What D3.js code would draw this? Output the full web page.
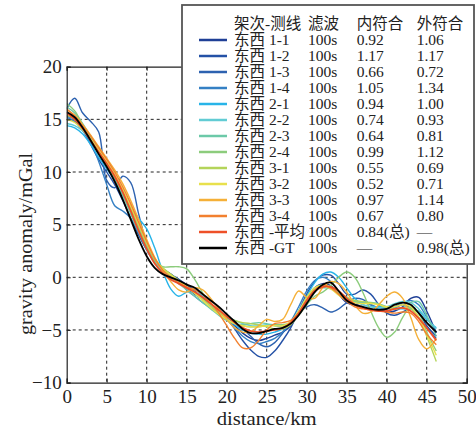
<!DOCTYPE html>
<html><head><meta charset="utf-8">
<script src="https://cdn.jsdelivr.net/npm/d3@7"></script>
<style>
body{margin:0;background:#fff;}
svg{display:block;}
svg text{font-family:"Liberation Serif","Times New Roman","Noto Sans CJK SC",serif !important;fill:#222;}
</style></head><body>
<svg id="chart" width="476" height="432"></svg>
<script>
// distance (km)
const distance = [0,1,2,3,4,5,6,7,8,9,10,11,12,13,14,15,16,17,18,19,20,21,22,23,24,25,26,27,28,29,30,31,32,33,34,35,36,37,38,39,40,41,42,43,44,45,46.2];

const s11 = [15.0,14.8,14.3,13.4,12.0,10.6,9.4,8.0,6.3,4.5,2.8,1.4,0.6,0.2,-0.2,-0.8,-1.4,-2.0,-2.6,-3.2,-3.8,-4.6,-5.3,-5.8,-6.0,-5.8,-5.5,-5.2,-4.6,-3.4,-2.0,-1.0,-0.6,-0.8,-1.6,-2.4,-2.6,-2.4,-2.6,-3.0,-3.3,-3.2,-2.8,-2.0,-1.9,-3.2,-5.3];
const s12 = [15.3,15.0,14.0,12.6,11.2,10.0,8.8,7.3,5.6,4.0,2.6,1.5,0.8,0.3,-0.3,-1.0,-1.6,-2.1,-2.6,-3.2,-3.9,-4.9,-6.0,-6.9,-7.5,-7.6,-7.0,-6.0,-4.8,-3.2,-1.6,-0.4,0.2,0.2,-0.6,-1.6,-1.6,-1.2,-1.6,-2.6,-3.4,-3.6,-3.3,-3.0,-3.4,-4.6,-5.6];
const s13 = [16.0,17.0,15.6,14.8,13.8,9.2,8.5,9.6,9.0,6.0,3.2,1.6,0.8,0.3,-0.2,-0.7,-1.3,-2.0,-2.7,-3.3,-3.8,-4.3,-4.9,-5.6,-6.3,-6.6,-6.2,-5.3,-4.3,-3.4,-2.8,-2.6,-2.9,-3.3,-3.0,-2.4,-2.0,-2.1,-2.6,-3.1,-3.2,-2.9,-2.6,-2.9,-3.8,-4.8,-5.8];
const s14 = [15.2,14.8,13.9,12.8,11.0,8.8,6.8,6.3,5.6,4.2,2.6,1.4,0.7,0.2,-0.4,-1.2,-1.8,-2.4,-2.9,-3.4,-4.0,-4.8,-5.6,-6.1,-6.3,-6.1,-5.8,-5.2,-4.2,-2.8,-1.3,-0.3,0.0,-0.4,-1.4,-2.2,-2.4,-2.4,-2.6,-2.9,-3.0,-2.8,-2.4,-2.2,-2.6,-3.8,-5.2];
const s21 = [14.4,14.2,13.6,12.6,11.4,10.3,9.2,7.8,6.6,5.6,4.6,2.8,0.6,-1.1,-1.8,-1.4,-1.2,-1.8,-2.6,-3.3,-3.9,-4.5,-5.0,-5.3,-5.4,-5.4,-5.2,-4.9,-4.3,-3.2,-1.8,-0.5,0.3,0.5,0.0,-1.0,-2.0,-2.6,-2.8,-2.8,-2.8,-2.9,-3.0,-3.0,-3.2,-4.0,-4.8];
const s22 = [14.6,14.4,13.9,13.1,12.1,10.8,9.4,7.9,6.3,4.6,2.9,1.5,0.6,0.1,-0.4,-0.9,-1.5,-2.1,-2.7,-3.2,-3.7,-4.1,-4.4,-4.6,-4.6,-4.5,-4.5,-4.6,-4.3,-3.4,-2.2,-1.3,-1.0,-1.1,-1.5,-1.9,-2.3,-2.6,-2.8,-2.9,-2.8,-2.5,-2.3,-2.4,-3.0,-3.9,-4.9];
const s23 = [16.2,15.6,14.6,13.4,12.0,10.6,9.3,7.8,6.0,4.3,2.7,1.4,0.5,-0.1,-0.6,-1.2,-1.8,-2.4,-3.0,-3.6,-4.1,-4.4,-4.5,-4.4,-4.3,-4.4,-4.6,-4.7,-4.4,-3.5,-2.1,-1.0,-0.7,-1.0,-1.6,-2.0,-2.3,-2.4,-2.4,-2.5,-2.8,-3.0,-2.9,-2.4,-2.3,-3.6,-5.6];
const s24 = [16.5,15.8,14.5,13.1,11.8,10.6,9.5,8.2,6.6,4.8,3.0,1.6,1.0,1.0,1.0,0.8,-0.2,-1.5,-2.6,-3.4,-4.0,-4.4,-4.6,-4.7,-4.7,-4.6,-4.5,-4.5,-4.3,-3.6,-2.6,-1.8,-1.4,-0.8,0.0,0.5,0.0,-1.4,-3.2,-4.8,-5.7,-5.2,-3.8,-2.8,-3.4,-5.2,-7.0];
const s31 = [15.4,15.0,14.2,13.2,12.0,10.8,9.6,8.2,6.6,4.9,3.2,1.8,0.9,0.3,-0.3,-0.9,-1.5,-2.1,-2.7,-3.3,-3.8,-4.1,-4.3,-4.4,-4.5,-4.7,-4.9,-4.9,-4.5,-3.5,-2.2,-1.2,-0.8,-0.9,-1.4,-1.9,-2.2,-2.3,-2.4,-2.6,-2.9,-3.0,-2.9,-3.0,-3.8,-5.6,-8.0];
const s32 = [15.0,14.7,14.0,13.1,12.1,11.0,9.8,8.4,6.8,5.1,3.3,1.8,0.8,0.2,-0.3,-0.9,-1.5,-2.2,-2.9,-3.5,-4.0,-4.4,-4.6,-4.7,-4.7,-4.6,-4.6,-4.6,-4.2,-3.2,-1.9,-1.0,-0.8,-1.1,-1.7,-2.2,-2.4,-2.5,-2.5,-2.6,-2.8,-2.8,-2.6,-2.8,-3.8,-5.4,-7.4];
const s33 = [15.9,15.4,14.5,13.5,12.4,11.3,10.2,8.9,7.3,5.5,3.6,1.9,0.6,-0.4,-1.2,-1.4,-1.0,-1.2,-2.0,-3.0,-4.0,-4.8,-5.2,-5.2,-4.6,-4.0,-4.2,-4.0,-2.6,-1.3,-1.9,-2.0,-1.0,-0.4,-0.6,-1.4,-2.6,-3.4,-3.3,-2.6,-1.8,-1.4,-2.0,-3.8,-5.9,-6.8,-5.8];
const s34 = [16.0,15.3,14.4,13.4,12.3,11.2,10.0,8.6,7.0,5.2,3.4,1.8,0.7,0.0,-0.5,-0.9,-1.2,-1.6,-2.4,-3.4,-4.6,-5.8,-6.7,-6.7,-6.0,-5.0,-4.4,-4.3,-4.1,-3.4,-2.2,-1.2,-0.8,-1.0,-1.6,-2.3,-2.8,-3.0,-3.1,-3.2,-3.3,-3.4,-3.3,-3.4,-4.2,-5.4,-6.4];
const sMean = [15.6,15.0,14.1,13.0,11.9,10.8,9.6,8.1,6.3,4.4,2.7,1.3,0.4,-0.2,-0.6,-1.0,-1.4,-1.9,-2.5,-3.1,-3.7,-4.3,-4.8,-5.1,-5.2,-5.1,-5.0,-4.8,-4.3,-3.4,-2.2,-1.3,-0.9,-0.9,-1.3,-2.0,-2.6,-2.9,-3.1,-3.2,-3.2,-3.0,-2.9,-3.2,-3.9,-4.8,-6.0];
const sGT = [15.7,15.2,14.2,13.0,11.7,10.5,9.1,7.4,5.5,3.6,2.0,0.9,0.3,0.0,-0.3,-0.7,-1.0,-1.6,-2.2,-2.8,-3.5,-4.2,-4.9,-5.3,-5.3,-5.1,-4.9,-4.8,-4.4,-3.6,-2.5,-1.4,-0.7,-0.5,-1.3,-2.2,-2.6,-2.8,-3.0,-3.1,-3.0,-2.6,-2.4,-2.6,-3.4,-4.3,-5.2];

const seriesNames = ["东西 1-1","东西 1-2","东西 1-3","东西 1-4","东西 2-1","东西 2-2","东西 2-3","东西 2-4","东西 3-1","东西 3-2","东西 3-3","东西 3-4","东西 -平均","东西 -GT"];
const seriesValues = [s11,s12,s13,s14,s21,s22,s23,s24,s31,s32,s33,s34,sMean,sGT];
const seriesColors = ["#1f3f96","#2451a6","#2d62b0","#3580c4","#28b4e8","#62ccd4","#6cc9a8","#8ccc7c","#b4d45a","#e8e04c","#f5b038","#f2802f","#ee5028","#000000"];
const filterCol = ["100s","100s","100s","100s","100s","100s","100s","100s","100s","100s","100s","100s","100s","100s"];
const innerFit = ["0.92","1.17","0.66","1.05","0.94","0.74","0.64","0.99","0.55","0.52","0.97","0.67","0.84(总)","—"];
const outerFit = ["1.06","1.17","0.72","1.34","1.00","0.93","0.81","1.12","0.69","0.71","1.14","0.80","—","0.98(总)"];
const legendHeader = ["架次-测线","滤波","内符合","外符合"];

const xTicks = [0,5,10,15,20,25,30,35,40,45,50];
const yTicks = [-10,-5,0,5,10,15,20];
const yTickLabels = ["\u221210","\u22125","0","5","10","15","20"];
const xLabel = "distance/km";
const yLabel = "gravity anomaly/mGal";

const FONT = '"Liberation Serif","Times New Roman","Noto Sans CJK SC",serif';
const svg = d3.select("#chart");
const m = {left:66.7, top:66.7, right:476-466.7, bottom:432-382.6};
const W = 476 - m.left - m.right, H = 432 - m.top - m.bottom;
const x = d3.scaleLinear().domain([0,50]).range([m.left, m.left+W]);
const y = d3.scaleLinear().domain([-10,20]).range([m.top+H, m.top]);

// grid
const g = svg.append("g");
g.selectAll(".gx").data(xTicks.slice(1,-1)).join("line")
  .attr("x1",d=>x(d)).attr("x2",d=>x(d)).attr("y1",m.top).attr("y2",m.top+H)
  .attr("stroke","#222").attr("stroke-width",1).attr("stroke-dasharray","3,3");
g.selectAll(".gy").data(yTicks.slice(1,-1)).join("line")
  .attr("y1",d=>y(d)).attr("y2",d=>y(d)).attr("x1",m.left).attr("x2",m.left+W)
  .attr("stroke","#222").attr("stroke-width",1).attr("stroke-dasharray","3,3");

// lines
const line = d3.line().curve(d3.curveCatmullRom.alpha(0.5)).x((d,i)=>x(distance[i])).y(d=>y(d));
svg.append("defs").append("clipPath").attr("id","clip").append("rect")
  .attr("x",m.left).attr("y",m.top).attr("width",W).attr("height",H);
const lg = svg.append("g").attr("clip-path","url(#clip)");
seriesValues.forEach((vals,i)=>{
  lg.append("path").attr("d",line(vals)).attr("fill","none")
    .attr("stroke",seriesColors[i]).attr("stroke-width", i>=12?1.8:1.4);
});

// axes (ticks inward)
const TFS = 19;
const axB = d3.axisBottom(x).tickValues(xTicks).tickSize(-4).tickPadding(7).tickFormat(d3.format("d"));
const axL = d3.axisLeft(y).tickValues(yTicks).tickSize(-4).tickPadding(5).tickFormat((d,i)=>yTickLabels[i]);
const axT = d3.axisTop(x).tickValues(xTicks).tickSize(-4).tickFormat("");
const axR = d3.axisRight(y).tickValues(yTicks).tickSize(-4).tickFormat("");
[[axB,`translate(0,${m.top+H})`],[axL,`translate(${m.left},0)`],[axT,`translate(0,${m.top})`],[axR,`translate(${m.left+W},0)`]].forEach(([a,t])=>{
  const ga = svg.append("g").attr("transform",t).call(a).attr("font-family",FONT);
  ga.select(".domain").attr("stroke","#222").attr("stroke-width",1.2);
  ga.selectAll(".tick line").attr("stroke","#222");
  ga.selectAll("text").attr("font-family",FONT).style("font-size",TFS+"px").attr("fill","#222");
});

svg.append("text").attr("x",m.left+W/2).attr("y",425).attr("text-anchor","middle")
  .attr("font-family",FONT).style("font-size","19px")
  .attr("textLength",100).attr("lengthAdjust","spacingAndGlyphs").text(xLabel);
svg.append("text").attr("transform","translate(32,244) rotate(-90)").attr("text-anchor","middle")
  .attr("font-family",FONT).style("font-size","19px")
  .attr("textLength",182).attr("lengthAdjust","spacingAndGlyphs").text(yLabel);

// legend
const L = svg.append("g").attr("font-family",FONT);
L.append("rect").attr("x",182).attr("y",5).attr("width",292).attr("height",259)
  .attr("fill","#fff").attr("stroke","#555").attr("stroke-width",1.8);
const cols = [234,308,356.7,416.7];
const fs = "15.5px";
legendHeader.forEach((t,j)=>{
  L.append("text").attr("x",cols[j]).attr("y",29).style("font-size",fs).text(t);
});
seriesNames.forEach((n,i)=>{
  const cy = 40 + i*16;
  L.append("line").attr("x1",199).attr("x2",227).attr("y1",cy).attr("y2",cy)
    .attr("stroke",seriesColors[i]).attr("stroke-width",2.5);
  [n, filterCol[i], innerFit[i], outerFit[i]].forEach((t,j)=>{
    L.append("text").attr("x",cols[j]).attr("y",cy+5).style("font-size",fs).text(t);
  });
});
</script></body></html>
